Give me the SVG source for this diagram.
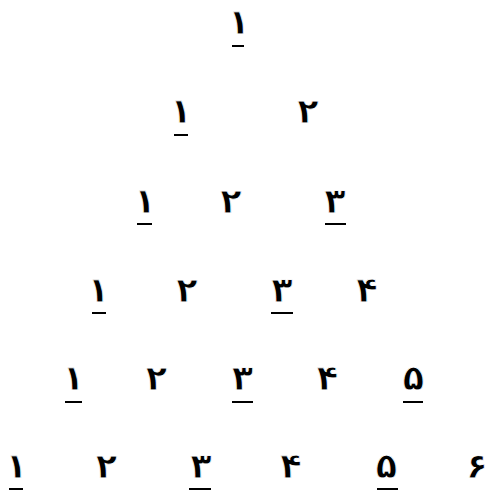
<svg xmlns="http://www.w3.org/2000/svg" width="488" height="490" viewBox="0 0 488 490">
<style>
text{font-family:"DejaVu Sans",sans-serif;font-weight:bold;font-size:35px;fill:#000;text-anchor:middle;stroke:#fff;stroke-width:0.8px;paint-order:normal}
.u{stroke:#000;stroke-width:2}
</style>
<rect width="488" height="490" fill="#fff"/>
<g id="r1">
<g id="n1_1"><text x="239" y="34">۱</text><line class="u" x1="232" y1="46" x2="244" y2="46"/></g>
</g>
<g id="r2">
<g id="n2_1"><text x="181" y="123">۱</text><line class="u" x1="174" y1="135" x2="188" y2="135"/></g>
<g id="n2_2"><text x="308" y="123">۲</text></g>
</g>
<g id="r3">
<g id="n3_1"><text x="145" y="213">۱</text><line class="u" x1="137" y1="224" x2="152" y2="224"/></g>
<g id="n3_2"><text x="231" y="213">۲</text></g>
<g id="n3_3"><text x="335" y="213">۳</text><line class="u" x1="325" y1="224" x2="346" y2="224"/></g>
</g>
<g id="r4">
<g id="n4_1"><text x="98.5" y="302">۱</text><line class="u" x1="92" y1="313" x2="106" y2="313"/></g>
<g id="n4_2"><text x="187" y="302">۲</text></g>
<g id="n4_3"><text x="282" y="302">۳</text><line class="u" x1="271" y1="313" x2="293" y2="313"/></g>
<g id="n4_4"><text x="367" y="302">۴</text></g>
</g>
<g id="r5">
<g id="n5_1"><text x="73.5" y="390">۱</text><line class="u" x1="65" y1="402" x2="82" y2="402"/></g>
<g id="n5_2"><text x="156.5" y="390">۲</text></g>
<g id="n5_3"><text x="242.5" y="390">۳</text><line class="u" x1="232" y1="402" x2="253" y2="402"/></g>
<g id="n5_4"><text x="327.5" y="390">۴</text></g>
<g id="n5_5"><text x="413.5" y="390">۵</text><line class="u" x1="403" y1="402" x2="423" y2="402"/></g>
</g>
<g id="r6">
<g id="n6_1"><text x="16.5" y="478">۱</text><line class="u" x1="9" y1="489" x2="23" y2="489"/></g>
<g id="n6_2"><text x="106.5" y="478">۲</text></g>
<g id="n6_3"><text x="201" y="478">۳</text><line class="u" x1="189" y1="489" x2="211" y2="489"/></g>
<g id="n6_4"><text x="291" y="478">۴</text></g>
<g id="n6_5"><text x="386.5" y="478">۵</text><line class="u" x1="377" y1="489" x2="398" y2="489"/></g>
<g id="n6_6"><text x="477" y="478">۶</text></g>
</g>
<g id="connectors"/>
</svg>
